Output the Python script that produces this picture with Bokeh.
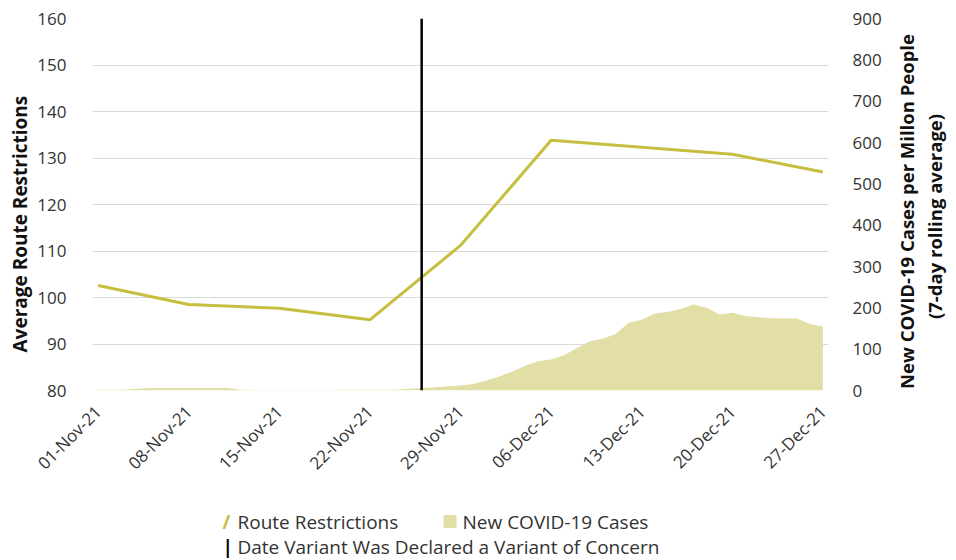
import datetime as dt
from math import pi
from bokeh.plotting import figure
from bokeh.layouts import column, row
from bokeh.models import (Range1d, LinearAxis, FixedTicker, DatetimeTickFormatter,
                          Span, Title, ColumnDataSource)
from bokeh.core.properties import value
from bokeh.embed import file_html
from bokeh.resources import INLINE

# ---------------- data ----------------
route_dates = ["2021-11-01", "2021-11-08", "2021-11-15", "2021-11-22", "2021-11-29",
               "2021-12-06", "2021-12-13", "2021-12-20", "2021-12-27"]
route_values = [102.6, 98.5, 97.7, 95.2, 111.2, 133.8, 132.3, 130.8, 127.0]

case_start = "2021-11-01"
case_values = [2, 2, 2, 4, 6, 6, 6, 6, 6, 6,
               6, 2, 1, 1, 1, 1, 1, 1, 1, 2,
               2, 2, 2, 2, 4, 6, 8, 10, 12, 16,
               24, 34, 46, 60, 71, 75, 85, 103, 119, 125,
               137, 164, 171, 186, 190, 197, 208, 200, 184, 188,
               180, 177, 175, 174, 174, 161, 155]

variant_date = "2021-11-26"
x_tick_dates = ["2021-11-01", "2021-11-08", "2021-11-15", "2021-11-22", "2021-11-29",
                "2021-12-06", "2021-12-13", "2021-12-20", "2021-12-27"]
left_ticks = [80, 90, 100, 110, 120, 130, 140, 150, 160]
right_ticks = [0, 100, 200, 300, 400, 500, 600, 700, 800, 900]

left_title = "Average Route Restrictions"
right_title_1 = "New COVID-19 Cases per Millon People"
right_title_2 = "(7-day rolling average)"
legend_route = "Route Restrictions"
legend_cases = "New COVID-19 Cases"
legend_variant = "Date Variant Was Declared a Variant of Concern"

# ---------------- helpers ----------------
def to_dt(s):
    return dt.datetime.strptime(s, "%Y-%m-%d")

def ms(d):
    return (d - dt.datetime(1970, 1, 1)).total_seconds() * 1000.0

r_x = [to_dt(s) for s in route_dates]
c0 = to_dt(case_start)
c_x = [c0 + dt.timedelta(days=i) for i in range(len(case_values))]
DAY = 86400000.0

FONT = "Open Sans"
LINE_COLOR = "#C6BE3F"
AREA_COLOR = "#E1DEA6"
TEXT_COLOR = "#333333"
TITLE_COLOR = "#111111"
W_MAIN = 888
W_RIGHT = 60
H_MAIN = 490
H_LEG = 68
FRAME_TOP, FRAME_BOTTOM = 18, 390

p = figure(width=W_MAIN, height=H_MAIN, x_axis_type="datetime",
           output_backend="svg", toolbar_location=None,
           min_border_left=92, min_border_right=60, min_border_top=FRAME_TOP,
           min_border_bottom=H_MAIN - FRAME_BOTTOM)
p.outline_line_color = None
p.background_fill_color = "white"
p.border_fill_color = "white"

p.x_range = Range1d(ms(c_x[0]) - 0.43 * DAY, ms(c_x[-1]) + 0.43 * DAY)
p.y_range = Range1d(80, 160)
p.extra_y_ranges = {"cases": Range1d(0, 900)}

# area (cases)
src_c = ColumnDataSource(dict(x=c_x, y=case_values, z=[0] * len(case_values)))
p.varea(x="x", y1="z", y2="y", source=src_c, fill_color=AREA_COLOR,
        fill_alpha=1.0, y_range_name="cases")

# route restrictions line
src_r = ColumnDataSource(dict(x=r_x, y=route_values))
p.line(x="x", y="y", source=src_r, line_color=LINE_COLOR, line_width=3)

# variant date
p.add_layout(Span(location=ms(to_dt(variant_date)), dimension="height",
                  line_color="black", line_width=2.5))

# axes
xa = p.xaxis[0]
xa.ticker = FixedTicker(ticks=[ms(to_dt(s)) for s in x_tick_dates])
xa.formatter = DatetimeTickFormatter(days="%d-%b-%y", months="%d-%b-%y")
xa.major_label_orientation = pi / 4
xa.major_label_standoff = 12

ya = p.yaxis[0]
ya.ticker = FixedTicker(ticks=left_ticks)
ya.major_label_standoff = 20

ra = LinearAxis(y_range_name="cases", ticker=FixedTicker(ticks=right_ticks))
ra.major_label_standoff = 18
p.add_layout(ra, "right")

for ax in [xa, ya, ra]:
    ax.axis_line_color = None
    ax.major_tick_line_color = None
    ax.minor_tick_line_color = None
    ax.major_label_text_font = FONT
    ax.major_label_text_font_size = "17px"
    ax.major_label_text_color = TEXT_COLOR

p.add_layout(Title(text=left_title, align="left", offset=38, standoff=4,
                   text_font=FONT, text_font_size="19px", text_font_style="bold",
                   text_color=TITLE_COLOR), "left")

p.xgrid.grid_line_color = None
p.ygrid.grid_line_color = "#D9D9D9"
p.ygrid.grid_line_width = 1
p.ygrid.ticker = FixedTicker(ticks=left_ticks)

# ---------------- right-hand axis title ----------------
# (its frame is aligned with the main chart's frame, so y is in page pixels 18..390)
rt = figure(width=W_RIGHT, height=H_MAIN, output_backend="svg", toolbar_location=None,
            x_range=Range1d(0, W_RIGHT), y_range=Range1d(FRAME_BOTTOM, FRAME_TOP),
            x_axis_location=None, y_axis_location=None, min_border=0,
            min_border_left=0, min_border_right=0)
rt.grid.visible = False
rt.outline_line_color = None
rt.text(x=[18, 46], y=[211, 216], text=[right_title_1, right_title_2],
        angle=pi / 2, text_font=value(FONT), text_font_size="18.5px",
        text_font_style="bold", text_color=TITLE_COLOR,
        text_align="center", text_baseline="middle")

# ---------------- legend figure (below chart) ----------------
W_ALL = W_MAIN + W_RIGHT
leg = figure(width=W_ALL, height=H_LEG, output_backend="svg", toolbar_location=None,
             x_range=Range1d(0, W_ALL), y_range=Range1d(H_LEG, 0),
             x_axis_location=None, y_axis_location=None, min_border=0)
leg.grid.visible = False
leg.outline_line_color = None

row1 = 31  # px from top of legend figure
row2 = 56
leg_src = ColumnDataSource(dict(
    x=[222, 237, 462, 222, 237],
    y=[row1, row1, row1, row2, row2],
    t=["/", legend_route, legend_cases, "|", legend_variant],
    c=[LINE_COLOR, TEXT_COLOR, TEXT_COLOR, "black", TEXT_COLOR],
    s=["bold", "normal", "normal", "bold", "normal"],
))
leg.text(x="x", y="y", text="t", text_color="c", text_font_style="s", source=leg_src,
         text_font=value(FONT), text_font_size="19px", text_baseline="middle",
         text_align="left")
leg.rect(x=[449.5], y=[row1], width=13, height=13, fill_color=AREA_COLOR,
         line_color=None)

layout = column(row(p, rt, spacing=0), leg, spacing=0)
open("out.html", "w").write(file_html(layout, INLINE))
